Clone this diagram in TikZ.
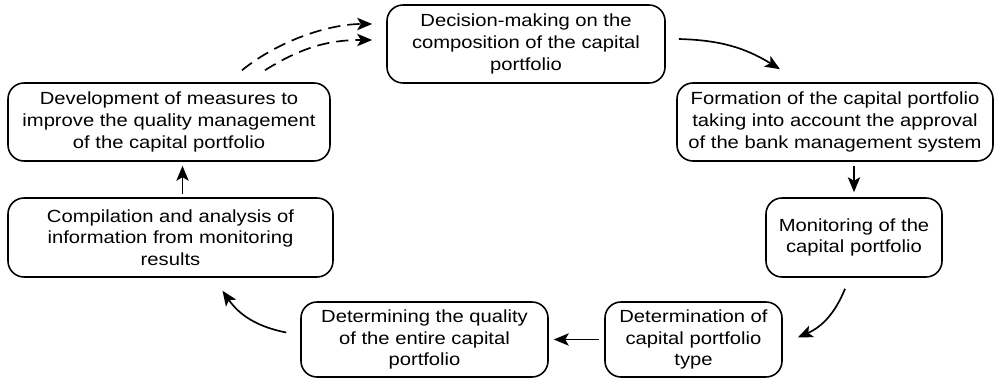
\documentclass[tikz,border=0pt]{standalone}
\usepackage{fontspec}
\setmainfont{Liberation Sans}[FakeStretch=1.15]
\usetikzlibrary{arrows.meta}
\begin{document}
\begin{tikzpicture}[x=0.02cm,y=-0.02cm,
  box/.style={draw, line width=0.9pt, rounded corners=0.32cm, align=center,
    inner sep=0pt, font=\fontsize{10}{12.3}\selectfont},
  arr/.style={line width=0.95pt, -{Stealth[length=8.5pt,width=7pt,inset=2pt]}},
  darr/.style={arr, dash pattern=on 7pt off 4pt}]
\useasboundingbox (0,0) rectangle (994,378);
\node[box, minimum width=278*0.02cm, minimum height=78*0.02cm] (b1) at (526,44)
  {Decision-making on the\\composition of the capital\\portfolio};
\node[box, minimum width=316*0.02cm, minimum height=78*0.02cm] (b2) at (835,122)
  {Formation of the capital portfolio\\taking into account the approval\\of the bank management system};
\node[box, minimum width=176*0.02cm, minimum height=79*0.02cm] (b3) at (854,237.5)
  {Monitoring of the\\capital portfolio};
\node[box, minimum width=177*0.02cm, minimum height=75*0.02cm] (b4) at (693.5,339.5)
  {Determination of\\capital portfolio\\type};
\node[box, minimum width=247*0.02cm, minimum height=75*0.02cm] (b5) at (424.5,339.5)
  {Determining the quality\\of the entire capital\\portfolio};
\node[box, minimum width=325*0.02cm, minimum height=79*0.02cm] (b6) at (170.5,237.5)
  {Compilation and analysis of\\information from monitoring\\results};
\node[box, minimum width=322*0.02cm, minimum height=78*0.02cm] (b7) at (169,122)
  {Development of measures to\\improve the quality management\\of the capital portfolio};
% connectors
\draw[arr] ([shift={(13,-5)}]b1.east) to[bend left=15] ([shift={(-55,-13)}]b2.north);
\draw[arr, shorten <=4*0.02cm, shorten >=5*0.02cm] (b2.south -| b3.north) -- (b3.north);
\draw[arr] ([shift={(-9,11)}]b3.south) to[bend left=22] ([shift={(15,-2)}]b4.east);
\draw[arr, shorten <=5*0.02cm, shorten >=5*0.02cm] (b4.west) -- (b5.east);
\draw[arr] ([shift={(-14,-7)}]b5.west) to[bend left=22] ([shift={(52,13)}]b6.south);
\draw[arr, shorten <=3*0.02cm, shorten >=4*0.02cm] ([xshift=12*0.02cm]b6.north) -- ([xshift=12*0.02cm]b6.north |- b7.south);
\draw[darr] ([shift={(73,-12)}]b7.north) .. controls +(40,-32) and +(-40,0) .. ([shift={(-14,-20)}]b1.west);
\draw[darr] ([shift={(96,-12)}]b7.north) .. controls +(40,-25) and +(-40,0) .. ([shift={(-14,-4)}]b1.west);
\end{tikzpicture}
\end{document}
